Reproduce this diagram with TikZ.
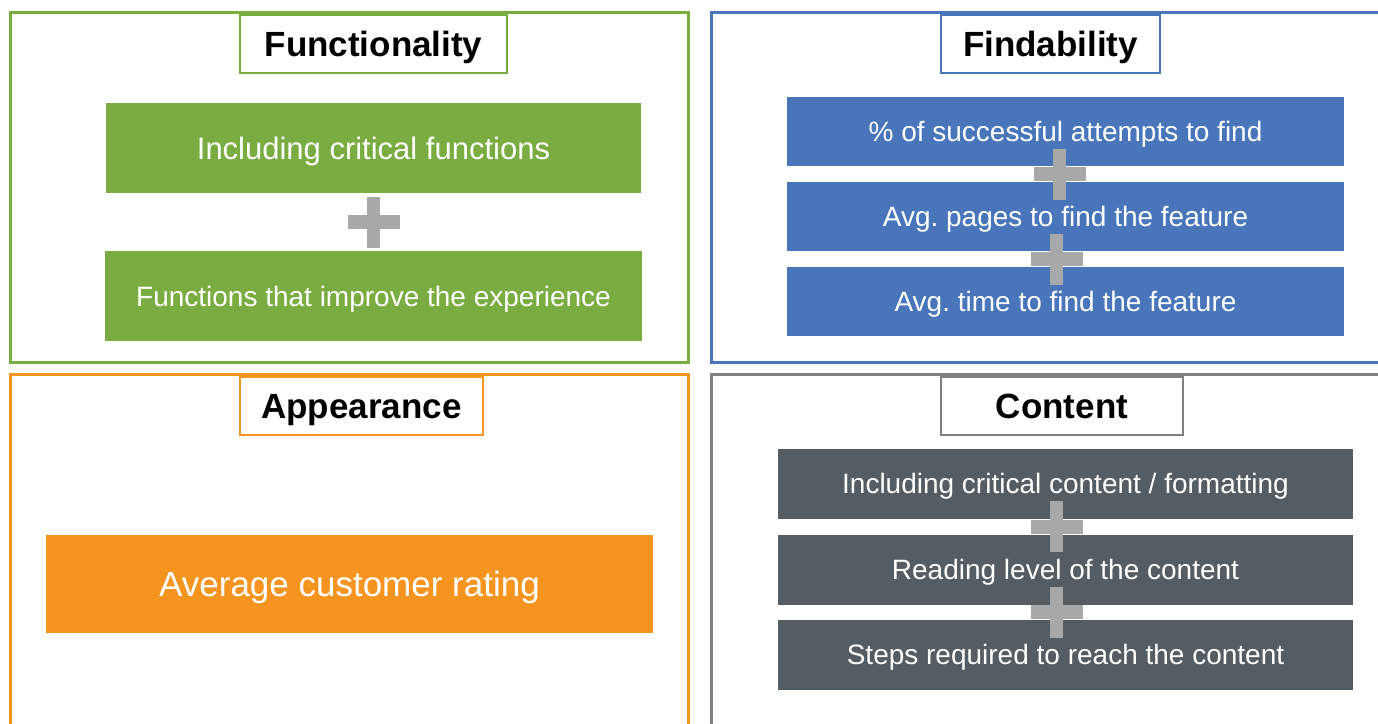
\documentclass[tikz,border=0pt]{standalone}
\usepackage{fontspec}
\setmainfont{Liberation Sans}
\frenchspacing
\usetikzlibrary{calc,positioning}
\tikzset{>=latex}
\definecolor{fgreen}{RGB}{122,172,65}
\definecolor{fblue}{RGB}{73,117,187}
\definecolor{forange}{RGB}{246,148,32}
\definecolor{fgray}{RGB}{84,93,100}
\definecolor{fframe}{RGB}{128,128,128}
\definecolor{plusgray}{RGB}{168,168,168}
\newcommand{\addsign}[3][0]{%
	\fill[plusgray] ($(#2.south)!0.5!(#3.north)+(#1,0)$) +(-26,-7) rectangle +(26,7);
	\fill[plusgray] ($(#2.south)!0.5!(#3.north)+(#1,0)$) +(-6.5,-25.5) rectangle +(6.5,25.5);}

\begin{document}
\begin{tikzpicture}[x=1pt, y=1pt, font=\sffamily,
	panel/.style={draw, line width=3pt, inner sep=0pt},
	heading/.style={draw, line width=2pt, fill=white, minimum height=58pt, inner sep=0pt, text=black, text height=27.5pt, text depth=2.5pt, font=\fontsize{35}{40}\selectfont\bfseries},
	item/.style={fill=#1, text=white, inner sep=0pt, text height=22.5pt, text depth=2.5pt, font=\fontsize{28}{32}\selectfont},
	bigitem/.style={text height=26pt, text depth=2.5pt}]
		\useasboundingbox (0,0) rectangle (1378,723);

		\draw[panel, fgreen] (10,710) rectangle (688,360);
		\draw[panel, fblue] (711,710) rectangle (1390,360);
		\draw[panel, forange] (10,348) rectangle (688,-10);
		\draw[panel, fframe] (711,348) rectangle (1390,-10);

		\node[heading, draw=fgreen, minimum width=267pt] (functionality) at (373.5,679) {Functionality};
		\node[heading, draw=fblue, minimum width=219pt] (findability) at (1050.5,679) {Findability};
		\node[heading, draw=forange, minimum width=243pt] (appearance) at (361.5,317) {Appearance};
		\node[heading, draw=fframe, minimum width=242pt] (content) at (1062,317) {Content};

		\node[item=fgreen, bigitem, minimum width=535pt, minimum height=90pt, font=\fontsize{31}{36}\selectfont] (critfunc) at (373.5,575) {Including critical functions};
		\node[item=fgreen, minimum width=537pt, minimum height=90pt, below=58pt of critfunc] (improve) {Functions that improve the experience};
		\addsign{critfunc}{improve}

		\node[item=fblue, minimum width=557pt, minimum height=69pt] (attempts) at (1065.5,591.5) {\% of successful attempts to find};
		\node[item=fblue, minimum width=557pt, minimum height=69pt, below=16pt of attempts] (pages) {Avg. pages to find the feature};
		\node[item=fblue, minimum width=557pt, minimum height=69pt, below=15pt of pages] (time) {Avg. time to find the feature};
		\addsign[-6]{attempts}{pages}
		\addsign[-9]{pages}{time}

		\node[item=forange, minimum width=607pt, minimum height=98pt, text height=27.5pt, font=\fontsize{35}{40}\selectfont] (rating) at (349.5,139) {Average customer rating};

		\node[item=fgray, minimum width=575pt, minimum height=70pt] (critcontent) at (1065.5,239) {Including critical content / formatting};
		\node[item=fgray, minimum width=575pt, minimum height=70pt, below=15.5pt of critcontent] (reading) {Reading level of the content};
		\node[item=fgray, minimum width=575pt, minimum height=70pt, below=14.5pt of reading] (steps) {Steps required to reach the content};
		\addsign[-9]{critcontent}{reading}
		\addsign[-9]{reading}{steps}
	\end{tikzpicture}
\end{document}
